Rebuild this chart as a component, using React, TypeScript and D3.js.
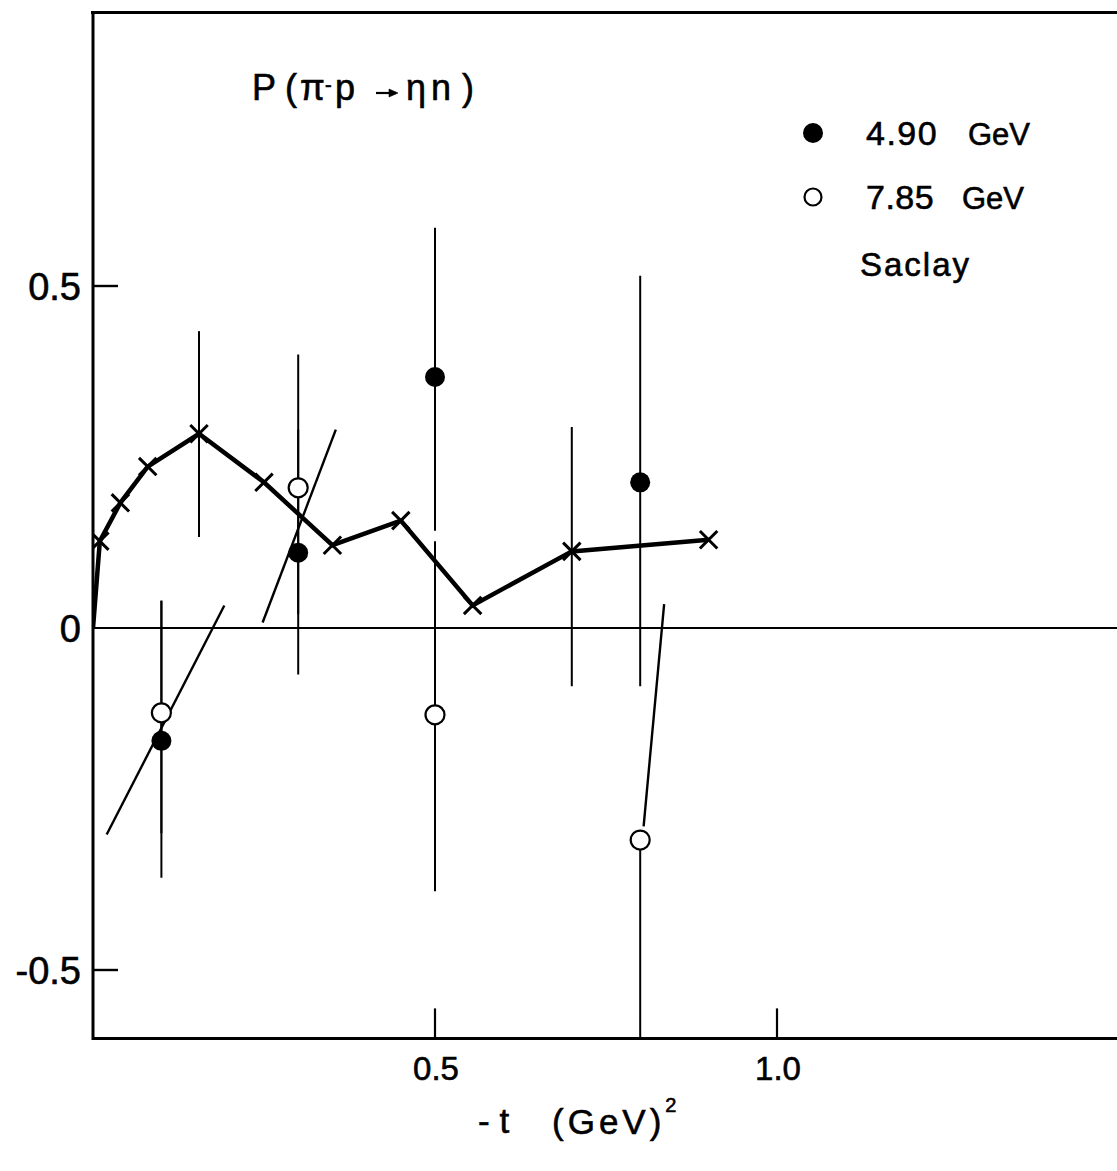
import React from 'react';
import * as d3 from 'd3';

// polarisation of pi- p -> eta n
const curveT = [0, 0.01, 0.04, 0.08, 0.155, 0.25, 0.35, 0.45, 0.555, 0.7, 0.9];
const curveP = [0, 0.127, 0.183, 0.236, 0.284, 0.213, 0.121, 0.157, 0.033, 0.112, 0.129];

// error bars that sit on the cross curve
const crossErrT = [0.155, 0.7];
const crossErrLo = [0.133, -0.085];
const crossErrHi = [0.434, 0.294];

// 4.90 GeV (filled)
const filledT = [0.1, 0.3, 0.5, 0.8];
const filledP = [-0.165, 0.11, 0.367, 0.213];
const filledLo = [-0.365, -0.068, 0.142, -0.085];
const filledHi = [0.04, 0.29, 0.585, 0.515];

// 7.85 GeV (open)
const openT = [0.1, 0.3, 0.5, 0.8];
const openP = [-0.124, 0.205, -0.127, -0.31];
const openLo = [-0.3, 0.02, -0.385, -0.6];
const openHi = [0.04, 0.4, 0.127, -0.31];

// thin straight segments
const segT0 = [0.02, 0.248, 0.805];
const segP0 = [-0.302, 0.008, -0.29];
const segT1 = [0.192, 0.355, 0.835];
const segP1 = [0.033, 0.29, 0.035];

const yTicks = [-0.5, 0.5];
const yLabels = [-0.5, 0, 0.5];
const yLabelText = ['-0.5', '0', '0.5'];
const xTicks = [0.5, 1.0];
const xLabelText = ['0.5', '1.0'];

const W = 1117;
const H = 1171;
const font = '"Liberation Sans", Arial, sans-serif';

const x = d3.scaleLinear().domain([0, 1.5]).range([93, 1119]);
const y = d3.scaleLinear().domain([-0.6, 0.9]).range([1038.4, 12.4]);

export default function App() {
  const curve = d3.line<number>()
    .x((d) => x(curveT[d]))
    .y((d) => y(curveP[d]))(curveT.map((_, i) => i));
  const cross = d3.symbol(d3.symbolX, 200)();

  const x0 = x(0);
  const yTop = y(0.9);
  const yBot = y(-0.6);

  return (
    <svg width={W} height={H} style={{ position: 'absolute', left: 0, top: 0, background: '#fff' }}
      fontFamily={font}>
      <defs>
        <clipPath id="plot">
          <rect x={x0} y={yTop} width={W - x0} height={yBot - yTop} />
        </clipPath>
      </defs>

      {/* frame */}
      <path d={`M${x0 - 2},${yTop}H${W}`} stroke="#000" strokeWidth={3} />
      <path d={`M${x0},${yTop}V${yBot + 1.5}`} stroke="#000" strokeWidth={3} />
      <path d={`M${x0},${yBot}H${W}`} stroke="#000" strokeWidth={3} />
      <path d={`M${x0},${y(0)}H${W}`} stroke="#000" strokeWidth={2.2} />

      {yTicks.map((t) => (
        <line key={t} x1={x0} x2={x0 + 25} y1={y(t)} y2={y(t)} stroke="#000" strokeWidth={2.4} />
      ))}
      {xTicks.map((t) => (
        <line key={t} x1={x(t)} x2={x(t)} y1={yBot} y2={yBot - 30} stroke="#000" strokeWidth={2.2} />
      ))}

      <g clipPath="url(#plot)" stroke="#000" fill="none">
        {crossErrT.map((t, i) => (
          <line key={'c' + i} x1={x(t)} x2={x(t)} y1={y(crossErrLo[i])} y2={y(crossErrHi[i])} strokeWidth={2} />
        ))}
        {filledT.map((t, i) => (
          <line key={'f' + i} x1={x(t)} x2={x(t)} y1={y(filledLo[i])} y2={y(filledHi[i])} strokeWidth={2} />
        ))}
        {openT.map((t, i) => (
          <line key={'o' + i} x1={x(t)} x2={x(t)} y1={y(openLo[i])} y2={y(openHi[i])} strokeWidth={2} />
        ))}
        {segT0.map((t, i) => (
          <line key={'s' + i} x1={x(t)} y1={y(segP0[i])} x2={x(segT1[i])} y2={y(segP1[i])} strokeWidth={2.4} />
        ))}

        <path d={curve ?? ''} strokeWidth={4.5} strokeLinejoin="miter" />
        {curveT.slice(1).map((t, i) => (
          <path key={'x' + i} d={cross ?? ''} transform={`translate(${x(t)},${y(curveP[i + 1])})`}
            strokeWidth={3} />
        ))}

        {filledT.map((t, i) => (
          <circle key={'fc' + i} cx={x(t)} cy={y(filledP[i])} r={10} fill="#000" stroke="none" />
        ))}
        {openT.map((t, i) => (
          <circle key={'oc' + i} cx={x(t)} cy={y(openP[i])} r={9.5} fill="#fff" strokeWidth={2.2} />
        ))}
      </g>

      <g fill="#000" stroke="#000" strokeWidth={0.6}>
        {yLabels.map((t, i) => (
          <text key={t} x={81} y={y(t) + 14} textAnchor="end" fontSize={38}>{yLabelText[i]}</text>
        ))}
        {xTicks.map((t, i) => (
          <text key={t} x={x(t) + 1} y={1080} textAnchor="middle" fontSize={33}>{xLabelText[i]}</text>
        ))}

        {/* title */}
        <text y={100} fontSize={36}>
          <tspan x={252}>P</tspan>
          <tspan x={285}>(</tspan>
          <tspan x={300}>π</tspan>
          <tspan x={325} y={92} fontSize={20}>-</tspan>
          <tspan x={335} y={100}>p</tspan>
        </text>
        <line x1={376} x2={396} y1={93} y2={93} strokeWidth={2.2} />
        <path d="M389,89L398,93L389,97Z" />
        <text y={100} fontSize={36}>
          <tspan x={406}>η</tspan>
          <tspan x={431}>n</tspan>
          <tspan x={462}>)</tspan>
        </text>

        {/* legend */}
        <text x={866} y={145} fontSize={34} letterSpacing={1.5}>4.90</text>
        <text x={968} y={145} fontSize={31}>GeV</text>
        <text x={866} y={209} fontSize={34} letterSpacing={0.5}>7.85</text>
        <text x={962} y={209} fontSize={31}>GeV</text>
        <text x={860} y={276} fontSize={33} letterSpacing={2}>Saclay</text>

        {/* x axis label */}
        <text x={478} y={1133} fontSize={35}>- t</text>
        <text x={552} y={1134} fontSize={35} letterSpacing={4}>
          (GeV)<tspan dy={-22} fontSize={20} letterSpacing={0}>2</tspan>
        </text>
      </g>
      <circle cx={813} cy={133} r={10} fill="#000" />
      <circle cx={813} cy={197} r={8.5} fill="#fff" stroke="#000" strokeWidth={2.2} />
    </svg>
  );
}
